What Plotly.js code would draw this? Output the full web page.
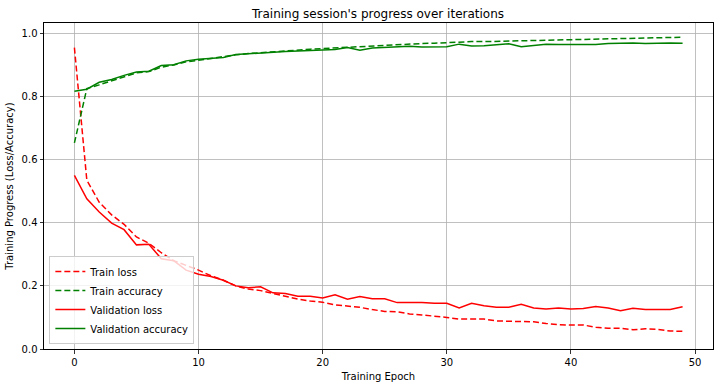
<!DOCTYPE html>
<html>
<head>
<meta charset="utf-8">
<script src="https://cdn.plot.ly/plotly-3.0.1.min.js"></script>
<style>html,body{margin:0;padding:0;background:#fff;}#chart{width:720px;height:387px;}</style>
</head>
<body>
<div id="chart"></div>
<script>
const epochs = Array.from({length: 50}, (_, i) => i);
const trainLoss = [0.955,0.535,0.465,0.425,0.395,0.355,0.335,0.305,0.28,0.265,
  0.25,0.232,0.218,0.2,0.19,0.185,0.176,0.166,0.158,0.152,
  0.148,0.14,0.136,0.132,0.125,0.119,0.118,0.111,0.108,0.105,
  0.1,0.095,0.094,0.095,0.089,0.088,0.087,0.086,0.081,0.077,
  0.076,0.076,0.069,0.066,0.066,0.061,0.064,0.062,0.057,0.056];
const trainAcc = [0.653,0.825,0.837,0.85,0.864,0.875,0.879,0.893,0.9,0.91,
  0.915,0.921,0.927,0.932,0.936,0.939,0.943,0.946,0.948,0.95,
  0.952,0.954,0.956,0.958,0.962,0.963,0.965,0.967,0.968,0.969,
  0.971,0.973,0.974,0.974,0.975,0.976,0.977,0.978,0.979,0.98,
  0.981,0.982,0.983,0.984,0.984,0.985,0.986,0.986,0.988,0.988];
const valLoss = [0.55,0.476,0.434,0.399,0.378,0.33,0.332,0.286,0.28,0.25,
  0.237,0.23,0.218,0.2,0.194,0.197,0.178,0.176,0.167,0.167,
  0.162,0.172,0.158,0.166,0.159,0.159,0.147,0.148,0.147,0.145,
  0.145,0.13,0.145,0.137,0.132,0.132,0.142,0.13,0.127,0.13,
  0.127,0.128,0.135,0.13,0.121,0.129,0.125,0.125,0.125,0.134];
const valAcc = [0.817,0.823,0.845,0.854,0.867,0.878,0.88,0.898,0.901,0.913,
  0.918,0.921,0.924,0.933,0.936,0.937,0.942,0.943,0.944,0.946,
  0.948,0.949,0.955,0.947,0.954,0.955,0.958,0.959,0.957,0.958,
  0.958,0.966,0.96,0.961,0.963,0.967,0.958,0.962,0.966,0.965,
  0.965,0.966,0.965,0.968,0.97,0.97,0.968,0.97,0.97,0.969];
const xTicks = [0,10,20,30,40,50];
const yTicks = [0,0.2,0.4,0.6,0.8,1.0];

const RED = '#ff0000', GREEN = '#008000';
const traces = [
  {x: epochs, y: trainLoss, name: 'Train loss', mode: 'lines', line: {color: RED, width: 1.5, dash: '6px,3px'}},
  {x: epochs, y: trainAcc, name: 'Train accuracy', mode: 'lines', line: {color: GREEN, width: 1.5, dash: '6px,3px'}},
  {x: epochs, y: valLoss, name: 'Validation loss', mode: 'lines', line: {color: RED, width: 1.5}},
  {x: epochs, y: valAcc, name: 'Validation accuracy', mode: 'lines', line: {color: GREEN, width: 1.5}}
];
const axisCommon = {
  showgrid: true, gridcolor: '#b0b0b0', gridwidth: 0.8,
  showline: true, linecolor: '#000', linewidth: 1, mirror: true,
  ticks: 'outside', ticklen: 3.5, tickwidth: 0.8, tickcolor: '#000',
  zeroline: false, tickfont: {family: 'DejaVu Sans', size: 10, color: '#000'}
};
const layout = {
  width: 720, height: 387,
  margin: {l: 44, r: 7, t: 23, b: 38},
  paper_bgcolor: '#fff', plot_bgcolor: '#fff',
  font: {family: 'DejaVu Sans', color: '#000'},
  title: {text: "Training session's progress over iterations", font: {family: 'DejaVu Sans', size: 12, color: '#000'}, x: 0.525, xanchor: 'center', y: 0.965, yanchor: 'middle'},
  xaxis: Object.assign({}, axisCommon, {
    range: [-2.45, 51.45], tickvals: xTicks, ticktext: xTicks.map(String),
    title: {text: 'Training Epoch', font: {family: 'DejaVu Sans', size: 10, color: '#000'}, standoff: 6}
  }),
  yaxis: Object.assign({}, axisCommon, {
    range: [0, 1.033], tickvals: yTicks, ticktext: yTicks.map(v => v.toFixed(1)),
    title: {text: 'Training Progress (Loss/Accuracy)', font: {family: 'DejaVu Sans', size: 10, color: '#000'}, standoff: 6}
  }),
  showlegend: true,
  legend: {
    x: 0.008, y: 0.015, xanchor: 'left', yanchor: 'bottom',
    bgcolor: 'rgba(255,255,255,0.8)', bordercolor: '#cccccc', borderwidth: 1,
    font: {family: 'DejaVu Sans', size: 10, color: '#000'},
    tracegroupgap: 0, itemwidth: 30
  }
};
Plotly.newPlot('chart', traces, layout, {displayModeBar: false, staticPlot: true});
</script>
</body>
</html>
